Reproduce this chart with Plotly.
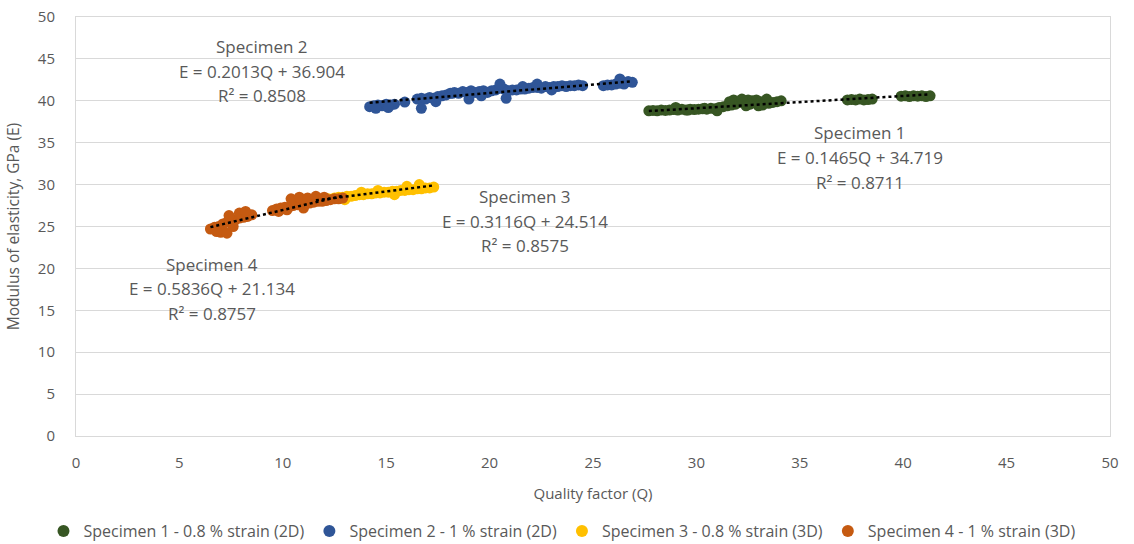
import plotly.graph_objects as go

# ---------------- data ----------------
names = ["Specimen 1 - 0.8 % strain (2D)", "Specimen 2 - 1 % strain (2D)",
         "Specimen 3 - 0.8 % strain (3D)", "Specimen 4 - 1 % strain (3D)"]
labels = ["Specimen 1", "Specimen 2", "Specimen 3", "Specimen 4"]
colors = ["#375623", "#2F5597", "#FFC000", "#C55A11"]

slopes = [0.1465, 0.2013, 0.3116, 0.5836]
intercepts = [34.719, 36.904, 24.514, 21.134]
r2 = [0.8711, 0.8508, 0.8575, 0.8757]

q1 = [27.7, 27.9, 28.1, 28.3, 28.5, 28.7, 28.9, 29.1, 29.3, 29.5, 29.7, 29.9, 30.1, 30.3, 30.5,
      30.7, 30.9, 31.1, 31.3, 31.5, 31.7, 31.9, 32.1, 32.3, 32.5, 32.7, 32.9, 33.1, 33.3, 33.5,
      33.7, 33.9, 34.1, 29.0, 29.6, 30.4, 31.0, 31.8, 32.2, 32.6, 33.0, 33.4, 31.6, 32.4, 33.2,
      37.3, 37.5, 37.7, 37.9, 38.1, 38.3, 38.5, 39.9, 40.1, 40.3, 40.5, 40.7, 40.9, 41.1, 41.3]
e1 = [38.8, 38.85, 38.8, 38.9, 38.85, 38.9, 38.95, 38.9, 39.0, 38.9, 39.0, 38.95, 39.0, 39.05, 39.0,
      39.1, 39.05, 39.2, 39.3, 39.4, 39.5, 39.6, 39.8, 40.0, 40.1, 40.0, 40.1, 39.9, 39.8, 39.7,
      39.8, 39.9, 40.0, 39.2, 38.9, 39.1, 38.8, 40.1, 40.2, 39.6, 39.4, 40.2, 39.9, 39.4, 39.5,
      40.1, 40.15, 40.1, 40.2, 40.1, 40.15, 40.2, 40.55, 40.6, 40.5, 40.6, 40.55, 40.6, 40.5, 40.6]

q2 = [14.2, 14.4, 14.6, 14.8, 15.0, 15.2, 15.4, 14.5, 15.1, 15.9, 16.5, 16.7, 16.9, 17.1, 17.3,
      17.5, 17.7, 17.9, 18.1, 18.3, 18.5, 18.7, 18.9, 19.1, 19.3, 19.5, 19.7, 19.9, 20.1, 20.3,
      20.5, 20.7, 20.9, 21.1, 21.3, 21.5, 21.7, 21.9, 22.1, 22.3, 22.5, 22.7, 22.9, 23.1, 23.3,
      23.5, 23.7, 23.9, 24.1, 24.3, 24.5, 16.7, 17.4, 18.2, 19.0, 19.6, 20.5, 20.8, 21.6, 22.3,
      23.0, 25.5, 25.7, 25.9, 26.1, 26.3, 26.5, 26.7, 26.9, 26.3]
e2 = [39.3, 39.4, 39.5, 39.4, 39.6, 39.5, 39.6, 39.1, 39.2, 39.85, 40.2, 40.3, 40.2, 40.4, 40.3,
      40.5, 40.6, 40.7, 40.9, 41.0, 40.9, 41.1, 41.0, 41.2, 41.0, 41.1, 41.2, 41.0, 41.2, 41.3,
      41.5, 41.4, 41.2, 41.3, 41.3, 41.4, 41.4, 41.5, 41.6, 41.6, 41.5, 41.7, 41.6, 41.7, 41.7,
      41.8, 41.7, 41.8, 41.8, 41.9, 41.8, 39.1, 39.9, 40.9, 40.2, 40.6, 42.0, 40.3, 41.7, 42.0,
      41.3, 41.8, 41.9, 41.9, 42.0, 42.1, 42.0, 42.3, 42.2, 42.6]

q3 = [11.6, 11.9, 12.2, 12.5, 12.7, 12.9, 13.1, 13.3, 13.5, 13.7, 13.9, 14.1, 14.3, 14.5, 14.7,
      14.9, 15.1, 15.3, 15.5, 15.7, 15.9, 16.1, 16.3, 16.5, 16.7, 16.9, 17.1, 17.3, 13.0, 13.8,
      14.6, 15.4, 16.0, 16.6]
e3 = [28.1, 28.2, 28.3, 28.4, 28.5, 28.5, 28.6, 28.6, 28.7, 28.8, 28.8, 28.9, 28.9, 29.0, 29.0,
      29.1, 29.1, 29.2, 29.2, 29.3, 29.3, 29.4, 29.4, 29.5, 29.5, 29.6, 29.6, 29.7, 28.2, 29.1,
      29.3, 28.8, 29.8, 30.0]

q4 = [6.5, 6.7, 6.9, 7.1, 7.3, 7.5, 7.7, 7.9, 8.1, 8.3, 8.5, 7.0, 7.3, 7.6, 7.9, 7.4, 8.2, 6.8,
      9.5, 9.7, 9.9, 10.1, 10.3, 10.5, 10.7, 10.9, 11.1, 11.3, 11.5, 11.7, 11.9, 12.1, 12.3, 12.5,
      12.7, 12.9, 10.4, 10.8, 11.2, 11.6, 12.0, 9.8, 10.2, 11.0]
e4 = [24.7, 24.9, 25.0, 25.3, 25.5, 25.6, 25.8, 26.0, 26.1, 26.2, 26.4, 24.3, 24.2, 25.0, 26.6,
      26.3, 26.8, 24.4, 26.9, 27.1, 27.2, 27.3, 27.3, 27.5, 27.6, 27.6, 27.7, 27.8, 27.9, 28.0,
      28.0, 28.1, 28.2, 28.3, 28.3, 28.4, 28.3, 28.5, 28.4, 28.6, 28.5, 26.8, 27.0, 27.2]

# label anchor positions (data units): centre Q, top-line E
label_q = [37.9, 9.0, 21.7, 6.6]
label_e = [36.2, 46.5, 28.6, 20.5]

x_ticks = [0, 5, 10, 15, 20, 25, 30, 35, 40, 45, 50]
y_ticks = [0, 5, 10, 15, 20, 25, 30, 35, 40, 45, 50]

qs = [q1, q2, q3, q4]
es = [e1, e2, e3, e4]

FONT = "Open Sans"
GRAY = "#595959"

fig = go.Figure()
for i in range(4):
    fig.add_trace(go.Scatter(
        x=qs[i], y=es[i], mode="markers", name=names[i],
        marker=dict(color=colors[i], size=11, line=dict(width=0)),
    ))
for i in range(4):
    x0, x1 = min(qs[i]), max(qs[i])
    fig.add_trace(go.Scatter(
        x=[x0, x1], y=[slopes[i] * x0 + intercepts[i], slopes[i] * x1 + intercepts[i]],
        mode="lines", showlegend=False, hoverinfo="skip",
        line=dict(color="black", width=2.5, dash="dot"),
    ))

step = 2.95
for i in range(4):
    lines = [labels[i],
             f"E = {slopes[i]}Q + {intercepts[i]}",
             f"R² = {r2[i]}"]
    for k, t in enumerate(lines):
        fig.add_annotation(x=label_q[i], y=label_e[i] - k * step, text=t, showarrow=False,
                           xanchor="center", yanchor="middle",
                           font=dict(family=FONT, size=17, color=GRAY))

fig.update_layout(
    width=1134, height=544, autosize=False,
    margin=dict(l=76, r=24, t=17, b=108, autoexpand=False),
    paper_bgcolor="white", plot_bgcolor="white",
    font=dict(family=FONT, color=GRAY, size=14),
    showlegend=True,
    legend=dict(orientation="h", x=0.47, xanchor="center", y=-0.227, yanchor="middle",
                font=dict(family=FONT, size=16, color=GRAY), itemwidth=30,
                tracegroupgap=0, itemsizing="constant"),
)
fig.update_xaxes(range=[0, 50], tickvals=x_ticks, ticktext=[str(v) for v in x_ticks],
                 showgrid=False, zeroline=False, showline=True, linecolor="#D9D9D9",
                 linewidth=1, mirror=True, ticks="", ticklabelstandoff=13, automargin=False,
                 tickfont=dict(family=FONT, size=15, color=GRAY),
                 title=dict(text="Quality factor (Q)", standoff=17,
                            font=dict(family=FONT, size=15, color=GRAY)))
fig.update_yaxes(range=[0, 50], tickvals=y_ticks, ticktext=[str(v) for v in y_ticks],
                 showgrid=True, gridcolor="#D9D9D9", gridwidth=1, zeroline=False,
                 showline=True, linecolor="#D9D9D9", linewidth=1, mirror=True, ticks="",
                 ticklabelstandoff=17, automargin=False,
                 tickfont=dict(family=FONT, size=15, color=GRAY),
                 title=dict(text="Modulus of elasticity, GPa (E)", standoff=14,
                            font=dict(family=FONT, size=15.5, color=GRAY)))

fig.write_html("out.html")
